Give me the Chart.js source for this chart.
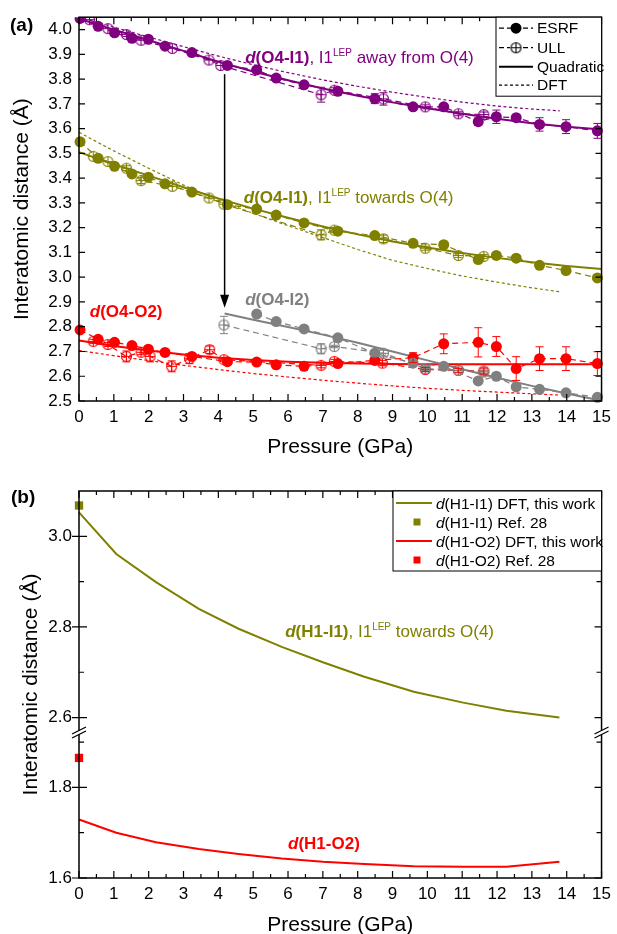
<!DOCTYPE html>
<html>
<head>
<meta charset="utf-8">
<script src="https://cdn.jsdelivr.net/npm/chart.js@4.4.1/dist/chart.umd.min.js"></script>
<style>
  html, body { margin: 0; padding: 0; background: #fff; width: 617px; height: 934px; overflow: hidden; }
  canvas { position: absolute; left: 0; }
  #chartA { top: 0; }
  #chartB { top: 465px; }
</style>
</head>
<body>
<canvas id="chartA" width="617" height="465"></canvas>
<canvas id="chartB" width="617" height="480"></canvas>
<script>
const F = "'Liberation Sans', Arial, Helvetica, sans-serif";
const PURPLE = '#800080', OLIVE = '#808000', RED = '#ff0000', GRAY = '#808080';

// ---- axes ----
const xTicks = [0, 1, 2, 3, 4, 5, 6, 7, 8, 9, 10, 11, 12, 13, 14, 15];
const xMinor = [0.5, 1.5, 2.5, 3.5, 4.5, 5.5, 6.5, 7.5, 8.5, 9.5, 10.5, 11.5, 12.5, 13.5, 14.5];
const yTicksA = [2.5, 2.6, 2.7, 2.8, 2.9, 3.0, 3.1, 3.2, 3.3, 3.4, 3.5, 3.6, 3.7, 3.8, 3.9, 4.0];
const yTicksHigh = [2.6, 2.8, 3.0];
const yMinorHigh = [2.7, 2.9];
const yTicksLow = [1.6, 1.8];
const yMinorLow = [1.7, 1.9];

// ---- panel (a): ESRF pressures (GPa) ----
const esrfP = [0.03, 0.55, 1.02, 1.52, 1.99, 2.47, 3.24, 4.26, 5.10, 5.66, 6.46, 7.43, 8.49, 9.59, 10.47, 11.46, 11.98, 12.55, 13.22, 13.98, 14.88];

// d(O4-I1), I1 away from O(4)
const awayEsrf = [4.045, 4.013, 3.987, 3.965, 3.961, 3.933, 3.907, 3.855, 3.837, 3.804, 3.777, 3.751, 3.721, 3.688, 3.688, 3.628, 3.648, 3.644, 3.617, 3.608, 3.591];
const awayEsrfErr = [0, 0, 0, 0, 0, 0, 0, 0, 0, 0, 0, 0, 0.02, 0, 0, 0.015, 0.027, 0.012, 0.027, 0.028, 0.03];
const awayUllP = [0.30, 0.83, 1.36, 1.78, 2.68, 3.73, 4.07, 6.95, 7.33, 8.74, 9.94, 10.89, 11.62];
const awayUll = [4.040, 4.004, 3.980, 3.957, 3.924, 3.877, 3.855, 3.737, 3.755, 3.720, 3.688, 3.660, 3.657];
const awayUllErr = [0, 0, 0.008, 0, 0, 0, 0, 0.03, 0.01, 0.025, 0.008, 0.008, 0.01];

// d(O4-I1), I1 towards O(4)
const towardsEsrf = [3.547, 3.480, 3.448, 3.417, 3.404, 3.377, 3.344, 3.293, 3.275, 3.251, 3.219, 3.186, 3.168, 3.137, 3.131, 3.071, 3.088, 3.077, 3.048, 3.027, 2.997];
const towardsUllP = [0.41, 0.83, 1.36, 1.78, 2.68, 3.73, 4.16, 6.95, 7.33, 8.74, 9.94, 10.89, 11.62];
const towardsUll = [3.488, 3.467, 3.440, 3.390, 3.367, 3.320, 3.295, 3.171, 3.190, 3.155, 3.117, 3.088, 3.084];
const towardsUllErr = [0, 0, 0.01, 0.012, 0, 0, 0, 0.02, 0.01, 0.015, 0.008, 0.008, 0.008];

// d(O4-O2)
const o2Esrf = [2.787, 2.749, 2.737, 2.724, 2.709, 2.696, 2.680, 2.659, 2.657, 2.646, 2.640, 2.651, 2.664, 2.675, 2.731, 2.737, 2.720, 2.631, 2.671, 2.671, 2.651];
const o2EsrfErr = [0.01, 0, 0, 0, 0, 0, 0, 0, 0, 0, 0, 0, 0.01, 0.02, 0.04, 0.059, 0.04, 0.048, 0.048, 0.048, 0.048];
const o2UllP = [0.41, 0.83, 1.36, 1.78, 2.04, 2.66, 3.17, 3.75, 4.16, 6.95, 7.33, 8.71, 9.94, 10.89, 11.62];
const o2Ull = [2.741, 2.728, 2.680, 2.697, 2.680, 2.640, 2.671, 2.707, 2.667, 2.644, 2.660, 2.653, 2.627, 2.624, 2.621];
const o2UllErr = [0.008, 0.008, 0.022, 0.01, 0.022, 0.022, 0.02, 0.015, 0.008, 0.01, 0.008, 0.01, 0.008, 0.008, 0.012];

// d(O4-I2)
const i2EsrfP = [5.10, 5.66, 6.46, 7.43, 8.49, 9.59, 10.47, 11.46, 11.98, 12.55, 13.22, 13.98, 14.88];
const i2Esrf = [2.851, 2.821, 2.791, 2.755, 2.693, 2.653, 2.640, 2.581, 2.600, 2.557, 2.547, 2.533, 2.515];
const i2UllP = [4.16, 6.95, 7.33, 8.74, 9.94, 10.89, 11.62];
const i2Ull = [2.807, 2.711, 2.720, 2.693, 2.631, 2.624, 2.617];
const i2UllErr = [0.035, 0.02, 0.005, 0.012, 0.008, 0.008, 0.008];

// quadratic fits
const quadP = [0, 1, 2, 3, 4, 5, 6, 7, 8, 9, 10, 11, 12, 13, 14, 15];
const awayQuad = [4.044, 4.000, 3.957, 3.914, 3.870, 3.831, 3.795, 3.762, 3.733, 3.706, 3.682, 3.660, 3.640, 3.622, 3.608, 3.596];
const towardsQuad = [3.505, 3.456, 3.410, 3.363, 3.318, 3.277, 3.240, 3.205, 3.173, 3.144, 3.120, 3.098, 3.078, 3.060, 3.045, 3.033];
const o2Quad = [2.744, 2.722, 2.704, 2.688, 2.675, 2.666, 2.659, 2.654, 2.651, 2.649, 2.648, 2.648, 2.648, 2.648, 2.648, 2.648];
const i2QuadP = [4.18, 5, 6, 7, 8, 9, 10, 11, 12, 13, 14, 15];
const i2Quad = [2.853, 2.828, 2.799, 2.768, 2.735, 2.700, 2.664, 2.628, 2.594, 2.561, 2.530, 2.501];

// DFT curves
const dftP = [0, 1, 2, 3, 4, 5, 6, 7, 8, 9, 10, 11, 12, 13, 13.8];
const awayDft = [4.050, 4.010, 3.970, 3.931, 3.893, 3.858, 3.826, 3.797, 3.771, 3.747, 3.726, 3.707, 3.691, 3.679, 3.672];
const towardsDft = [3.585, 3.510, 3.440, 3.372, 3.310, 3.258, 3.208, 3.160, 3.112, 3.068, 3.035, 3.005, 2.980, 2.957, 2.941];
const o2Dft = [2.704, 2.683, 2.663, 2.644, 2.627, 2.611, 2.597, 2.584, 2.572, 2.561, 2.551, 2.543, 2.536, 2.529, 2.524];

// arrow: pressure, from, to
const arrowP = 4.18, arrowFrom = 3.82, arrowTo = 2.877;

// ---- panel (b) ----
const bDftP = [0, 1.07, 2.21, 3.44, 4.58, 5.82, 7.0, 8.19, 9.61, 11.03, 12.27, 13.79];
const h1i1Dft = [3.053, 2.961, 2.899, 2.840, 2.796, 2.756, 2.722, 2.690, 2.657, 2.633, 2.615, 2.600];
const h1o2Dft = [1.729, 1.700, 1.679, 1.664, 1.653, 1.643, 1.636, 1.631, 1.626, 1.625, 1.625, 1.636];
const refP = [0];
const h1i1Ref = [3.068];
const h1o2Ref = [1.865];

const pts = (xs, ys) => xs.map((x, i) => ({ x: x, y: ys[i] }));
const CLIP = { left: 8, right: 8, top: 0, bottom: 8 };

// open circle with a cross (ULL marker)
function ullIcon(color) {
  const c = document.createElement('canvas');
  c.width = 13; c.height = 13;
  const g = c.getContext('2d');
  g.strokeStyle = color; g.lineWidth = 1.1;
  g.beginPath();
  g.arc(6.5, 6.5, 5, 0, 2 * Math.PI);
  g.moveTo(6.5, 1.5); g.lineTo(6.5, 11.5);
  g.moveTo(1.5, 6.5); g.lineTo(11.5, 6.5);
  g.stroke();
  return c;
}

function dotted(xs, ys, color) {
  return { data: pts(xs, ys), showLine: true, borderColor: color, borderWidth: 1.2, borderDash: [3, 2.5], pointRadius: 0, clip: CLIP };
}
function solid(xs, ys, color, axis) {
  return { data: pts(xs, ys), showLine: true, borderColor: color, borderWidth: 2, pointRadius: 0, yAxisID: axis || 'y', clip: CLIP };
}
function esrf(xs, ys, errs, color) {
  return { data: pts(xs, ys), errors: errs, showLine: true, borderColor: color, borderWidth: 1.2, borderDash: [6, 4],
    pointRadius: 5.5, pointBackgroundColor: color, pointBorderWidth: 0, clip: CLIP };
}
function ull(xs, ys, errs, color) {
  return { data: pts(xs, ys), errors: errs, showLine: true, borderColor: color, borderWidth: 1.2, borderDash: [6, 4],
    pointStyle: ullIcon(color), pointRadius: 6, clip: CLIP };
}

// draws text pieces one after another (for italic d, bold parts, superscripts)
function drawRuns(ctx, x, y, runs, color) {
  ctx.fillStyle = color;
  ctx.textBaseline = 'alphabetic';
  ctx.textAlign = 'left';
  let cx = x;
  runs.forEach(r => {
    ctx.font = r.font;
    ctx.fillText(r.t, cx, y + (r.dy || 0));
    cx += ctx.measureText(r.t).width;
  });
}
function bondLabel(name, rest, size) {
  const runs = [
    { t: 'd', font: `italic bold ${size}px ${F}` },
    { t: name, font: `bold ${size}px ${F}` }
  ];
  if (rest) {
    runs.push({ t: ', I1', font: `${size}px ${F}` });
    runs.push({ t: 'LEP', font: `10px ${F}`, dy: -7 });
    runs.push({ t: rest, font: `${size}px ${F}` });
  }
  return runs;
}

const errorBars = {
  id: 'errorBars',
  afterDatasetsDraw(chart) {
    const ctx = chart.ctx;
    chart.data.datasets.forEach((ds, i) => {
      if (!ds.errors) return;
      const meta = chart.getDatasetMeta(i);
      const ys = chart.scales[meta.yAxisID];
      ctx.save();
      ctx.strokeStyle = ds.borderColor;
      ctx.lineWidth = 1;
      ctx.beginPath();
      ds.data.forEach((p, j) => {
        const e = ds.errors[j];
        if (!e) return;
        const px = meta.data[j].x;
        const y1 = ys.getPixelForValue(p.y - e), y2 = ys.getPixelForValue(p.y + e);
        ctx.moveTo(px, y1); ctx.lineTo(px, y2);
        ctx.moveTo(px - 4, y1); ctx.lineTo(px + 4, y1);
        ctx.moveTo(px - 4, y2); ctx.lineTo(px + 4, y2);
      });
      ctx.stroke();
      ctx.restore();
    });
  }
};

function xTickMarks(ctx, x, a) {
  ctx.beginPath();
  xTicks.forEach(v => {
    const px = x.getPixelForValue(v);
    ctx.moveTo(px, a.bottom); ctx.lineTo(px, a.bottom - 7);
    ctx.moveTo(px, a.top); ctx.lineTo(px, a.top + 7);
  });
  xMinor.forEach(v => {
    const px = x.getPixelForValue(v);
    ctx.moveTo(px, a.bottom); ctx.lineTo(px, a.bottom - 4);
    ctx.moveTo(px, a.top); ctx.lineTo(px, a.top + 4);
  });
  ctx.stroke();
}

const panelA = {
  id: 'panelA',
  afterDraw(chart) {
    const { ctx, chartArea: a, scales: { x, y } } = chart;
    ctx.save();
    ctx.strokeStyle = '#000';
    ctx.lineWidth = 1.5;
    ctx.strokeRect(a.left, a.top, a.right - a.left, a.bottom - a.top);
    ctx.lineWidth = 1.2;
    xTickMarks(ctx, x, a);
    ctx.beginPath();
    yTicksA.forEach(v => {
      const py = y.getPixelForValue(v);
      ctx.moveTo(a.left, py); ctx.lineTo(a.left + 6, py);
      ctx.moveTo(a.right, py); ctx.lineTo(a.right - 6, py);
    });
    ctx.stroke();

    // arrow
    const ax = x.getPixelForValue(arrowP);
    const ay1 = y.getPixelForValue(arrowFrom), ay2 = y.getPixelForValue(arrowTo);
    ctx.lineWidth = 1.5;
    ctx.beginPath(); ctx.moveTo(ax, ay1); ctx.lineTo(ax, ay2 - 10); ctx.stroke();
    ctx.fillStyle = '#000';
    ctx.beginPath(); ctx.moveTo(ax, ay2); ctx.lineTo(ax - 4.5, ay2 - 13); ctx.lineTo(ax + 4.5, ay2 - 13); ctx.closePath(); ctx.fill();

    // labels
    drawRuns(ctx, x.getPixelForValue(4.77), y.getPixelForValue(3.888) + 6, bondLabel('(O4-I1)', ' away from O(4)', 17), PURPLE);
    drawRuns(ctx, x.getPixelForValue(4.73), y.getPixelForValue(3.322) + 6, bondLabel('(O4-I1)', ' towards O(4)', 17), OLIVE);
    drawRuns(ctx, x.getPixelForValue(4.77), y.getPixelForValue(2.911) + 6, bondLabel('(O4-I2)', null, 17), GRAY);
    drawRuns(ctx, x.getPixelForValue(0.31), y.getPixelForValue(2.864) + 6, bondLabel('(O4-O2)', null, 17), RED);

    // legend
    const L = 496, T = a.top, R = a.right, B = a.top + 79;
    ctx.fillStyle = '#fff';
    ctx.fillRect(L, T, R - L, B - T);
    ctx.strokeStyle = '#000'; ctx.lineWidth = 1;
    ctx.strokeRect(L, T, R - L, B - T);
    const rows = [T + 11, T + 30.5, T + 49.5, T + 68];
    ctx.lineWidth = 1.2;
    ctx.setLineDash([5, 3]);
    [rows[0], rows[1]].forEach(ry => { ctx.beginPath(); ctx.moveTo(499, ry); ctx.lineTo(533, ry); ctx.stroke(); });
    ctx.setLineDash([3, 2.5]);
    ctx.beginPath(); ctx.moveTo(499, rows[3]); ctx.lineTo(533, rows[3]); ctx.stroke();
    ctx.setLineDash([]);
    ctx.lineWidth = 2;
    ctx.beginPath(); ctx.moveTo(499, rows[2]); ctx.lineTo(533, rows[2]); ctx.stroke();
    ctx.fillStyle = '#000';
    ctx.beginPath(); ctx.arc(516, rows[0], 5.5, 0, 2 * Math.PI); ctx.fill();
    ctx.fillStyle = '#fff';
    ctx.fillRect(510, rows[1] - 6, 12, 12);
    ctx.drawImage(ullIcon('#000'), 516 - 6.5, rows[1] - 6.5);
    ctx.fillStyle = '#000';
    ctx.font = `15.5px ${F}`;
    ctx.textBaseline = 'middle';
    ['ESRF', 'ULL', 'Quadratic', 'DFT'].forEach((t, i) => ctx.fillText(t, 537, rows[i] + 1));

    // panel tag
    ctx.font = `bold 19px ${F}`;
    ctx.fillText('(a)', 10, 26);
    ctx.restore();
  }
};

const panelB = {
  id: 'panelB',
  afterDraw(chart) {
    const { ctx, chartArea: a, scales: { x, yHigh, yLow } } = chart;
    ctx.save();
    ctx.strokeStyle = '#000';
    ctx.lineWidth = 1.5;
    ctx.strokeRect(a.left, a.top, a.right - a.left, a.bottom - a.top);
    ctx.lineWidth = 1.2;
    xTickMarks(ctx, x, a);
    ctx.beginPath();
    [[yHigh, yTicksHigh, yMinorHigh], [yLow, yTicksLow, yMinorLow]].forEach(([s, maj, min]) => {
      maj.forEach(v => {
        const py = s.getPixelForValue(v);
        ctx.moveTo(a.left - 7, py); ctx.lineTo(a.left + 8, py);
        ctx.moveTo(a.right, py); ctx.lineTo(a.right - 7, py);
      });
      min.forEach(v => {
        const py = s.getPixelForValue(v);
        ctx.moveTo(a.left, py); ctx.lineTo(a.left + 5, py);
        ctx.moveTo(a.right, py); ctx.lineTo(a.right - 5, py);
      });
    });
    ctx.stroke();

    // axis break marks
    const yb = yHigh.bottom;
    [a.left, a.right].forEach(bx => {
      ctx.fillStyle = '#fff';
      ctx.fillRect(bx - 2, yb - 2.5, 4, 4);
      ctx.strokeStyle = '#000'; ctx.lineWidth = 1.3;
      ctx.beginPath();
      ctx.moveTo(bx - 7, yb + 5); ctx.lineTo(bx + 7, yb - 2);
      ctx.moveTo(bx - 7, yb + 1); ctx.lineTo(bx + 7, yb - 6);
      ctx.stroke();
    });

    // y title
    ctx.save();
    ctx.translate(31, (a.top + a.bottom) / 2);
    ctx.rotate(-Math.PI / 2);
    ctx.fillStyle = '#000';
    ctx.font = `21px ${F}`;
    ctx.textAlign = 'center';
    ctx.textBaseline = 'middle';
    ctx.fillText('Interatomic distance (Å)', 0, 0);
    ctx.restore();

    // labels
    drawRuns(ctx, x.getPixelForValue(5.92), yHigh.getPixelForValue(2.791) + 6, bondLabel('(H1-I1)', ' towards O(4)', 17), OLIVE);
    drawRuns(ctx, x.getPixelForValue(6.0), yLow.getPixelForValue(1.677) + 6, bondLabel('(H1-O2)', null, 17), RED);

    // legend
    const L = 393, T = a.top, R = a.right, B = a.top + 80;
    ctx.fillStyle = '#fff';
    ctx.fillRect(L, T, R - L, B - T);
    ctx.strokeStyle = '#000'; ctx.lineWidth = 1;
    ctx.strokeRect(L, T, R - L, B - T);
    const rows = [T + 12, T + 31, T + 50, T + 69];
    const items = [
      { c: OLIVE, line: true, t: '(H1-I1) DFT, this work' },
      { c: OLIVE, line: false, t: '(H1-I1) Ref. 28' },
      { c: RED, line: true, t: '(H1-O2) DFT, this work' },
      { c: RED, line: false, t: '(H1-O2) Ref. 28' }
    ];
    items.forEach((it, i) => {
      const ry = rows[i];
      if (it.line) {
        ctx.strokeStyle = it.c; ctx.lineWidth = 2;
        ctx.beginPath(); ctx.moveTo(396, ry); ctx.lineTo(432, ry); ctx.stroke();
      } else {
        ctx.fillStyle = it.c;
        ctx.fillRect(413.5, ry - 3.5, 7, 7);
      }
      drawRuns(ctx, 436, ry + 5.5, [
        { t: 'd', font: `italic 15.5px ${F}` },
        { t: it.t, font: `15.5px ${F}` }
      ], '#000');
    });

    ctx.fillStyle = '#000';
    ctx.font = `bold 19px ${F}`;
    ctx.textBaseline = 'middle';
    ctx.fillText('(b)', 11, 33);
    ctx.restore();
  }
};

function xScale(height, padBottom) {
  return {
    type: 'linear', min: 0, max: 15, position: 'bottom',
    grid: { display: false, drawTicks: false }, border: { display: false },
    afterBuildTicks: s => { s.ticks = xTicks.map(v => ({ value: v })); },
    ticks: { color: '#000', font: { family: F, size: 17 }, padding: 6, maxRotation: 0, autoSkip: false, callback: v => String(v) },
    title: { display: true, text: 'Pressure (GPa)', color: '#000', font: { family: F, size: 21 }, padding: { top: 0, bottom: padBottom } },
    afterFit: s => { s.height = height; }
  };
}
function yScale(min, max, ticks, extra) {
  return Object.assign({
    type: 'linear', position: 'left', min: min, max: max,
    grid: { display: false, drawTicks: false }, border: { display: false },
    afterBuildTicks: s => { s.ticks = ticks.map(v => ({ value: v })); },
    ticks: { color: '#000', font: { family: F, size: 17 }, padding: 7, autoSkip: false, callback: v => v.toFixed(1) },
    afterFit: s => { s.width = 79; }
  }, extra);
}

new Chart(document.getElementById('chartA'), {
  type: 'scatter',
  data: {
    datasets: [
      esrf(esrfP, awayEsrf, awayEsrfErr, PURPLE),
      ull(awayUllP, awayUll, awayUllErr, PURPLE),
      esrf(esrfP, towardsEsrf, null, OLIVE),
      ull(towardsUllP, towardsUll, towardsUllErr, OLIVE),
      esrf(i2EsrfP, i2Esrf, null, GRAY),
      ull(i2UllP, i2Ull, i2UllErr, GRAY),
      esrf(esrfP, o2Esrf, o2EsrfErr, RED),
      ull(o2UllP, o2Ull, o2UllErr, RED),
      solid(quadP, awayQuad, PURPLE),
      solid(quadP, towardsQuad, OLIVE),
      solid(i2QuadP, i2Quad, GRAY),
      solid(quadP, o2Quad, RED),
      dotted(dftP, awayDft, PURPLE),
      dotted(dftP, towardsDft, OLIVE),
      dotted(dftP, o2Dft, RED)
    ]
  },
  options: {
    responsive: false,
    animation: false,
    events: [],
    devicePixelRatio: 1,
    layout: { padding: { left: 0, right: 11, top: 14, bottom: 0 } },
    plugins: { legend: { display: false }, tooltip: { enabled: false } },
    scales: {
      x: xScale(64, 5),
      y: yScale(2.5, 4.05, yTicksA, {
        title: { display: true, text: 'Interatomic distance (Å)', color: '#000', font: { family: F, size: 21 }, padding: { top: 10, bottom: 0 } }
      })
    }
  },
  plugins: [errorBars, panelA]
});

new Chart(document.getElementById('chartB'), {
  type: 'scatter',
  data: {
    datasets: [
      { data: pts(refP, h1i1Ref), yAxisID: 'yHigh', pointStyle: 'rect', pointRadius: 5.9, pointBackgroundColor: OLIVE, pointBorderWidth: 0, clip: false },
      { data: pts(refP, h1o2Ref), yAxisID: 'yLow', pointStyle: 'rect', pointRadius: 5.9, pointBackgroundColor: RED, pointBorderWidth: 0, clip: false },
      solid(bDftP, h1i1Dft, OLIVE, 'yHigh'),
      solid(bDftP, h1o2Dft, RED, 'yLow')
    ]
  },
  options: {
    responsive: false,
    animation: false,
    events: [],
    devicePixelRatio: 1,
    layout: { padding: { left: 0, right: 11, top: 26, bottom: 0 } },
    plugins: { legend: { display: false }, tooltip: { enabled: false } },
    scales: {
      x: xScale(67, 7),
      yLow: yScale(1.6, 1.92, yTicksLow, { stack: 'b', stackWeight: 145 }),
      yHigh: yScale(2.566, 3.1, yTicksHigh, { stack: 'b', stackWeight: 242 })
    }
  },
  plugins: [panelB]
});
</script>
</body>
</html>
